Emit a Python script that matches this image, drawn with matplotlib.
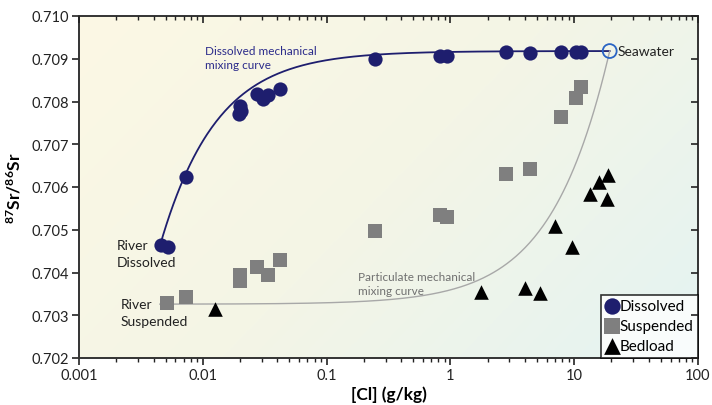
import numpy as np
import matplotlib
matplotlib.use("Agg")
import matplotlib.pyplot as plt
from matplotlib.colors import LinearSegmentedColormap
from matplotlib.ticker import FixedLocator, LogLocator, NullFormatter, FuncFormatter

plt.rcParams['font.family'] = ['Lato', 'DejaVu Sans']
plt.rcParams['mathtext.fontset'] = 'custom'
plt.rcParams['mathtext.rm'] = 'Lato'
plt.rcParams['mathtext.bf'] = 'Lato:bold'

# ---- data ----
dis_cl = [0.00458, 0.00522, 0.0073, 0.0199, 0.0202, 0.0195, 0.0272, 0.0305, 0.0335, 0.0418,
          0.244, 0.83, 0.946, 2.83, 4.42, 7.86, 10.4, 11.4]
dis_sr = [0.70464, 0.70460, 0.70623, 0.70789, 0.70777, 0.70770, 0.70818, 0.70806, 0.70815, 0.70829,
          0.70899, 0.70906, 0.70906, 0.70916, 0.70913, 0.70916, 0.70916, 0.70916]

sus_cl = [0.00512, 0.00728, 0.0199, 0.0199, 0.0272, 0.0335, 0.0418,
          0.244, 0.83, 0.946, 2.83, 4.42, 7.86, 10.4, 11.4]
sus_sr = [0.70329, 0.70343, 0.70394, 0.70380, 0.70413, 0.70394, 0.70429,
          0.70497, 0.70535, 0.70530, 0.70630, 0.70642, 0.70764, 0.70808, 0.70834]

bed_cl = [0.0125, 1.78, 4.03, 5.32, 7.03, 9.63, 13.5, 15.9, 18.8, 18.4]
bed_sr = [0.70315, 0.70354, 0.70364, 0.70352, 0.70509, 0.70460, 0.70584, 0.70612, 0.70628, 0.70572]

sea_cl = 19.35
sea_sr = 0.70918

# mixing end-members: river dissolved / river suspended -> seawater
river_dis_cl, river_dis_sr = 0.0045, 0.70462
river_sus_cl, river_sus_sr = 0.0045, 0.70326
k_dis = 4100.0   # Sr concentration ratio seawater / river (dissolved)
k_sus = 1.1      # Sr concentration ratio seawater / river (particulate)

xticks = [0.001, 0.01, 0.1, 1, 10, 100]
xtick_labels = ['0.001', '0.01', '0.1', '1', '10', '100']
yticks = [0.702, 0.703, 0.704, 0.705, 0.706, 0.707, 0.708, 0.709, 0.710]


def mixing(cl0, r0, k, n=400):
    cl = np.logspace(np.log10(cl0), np.log10(sea_cl), n)
    f = (cl - cl0) / (sea_cl - cl0)
    r = (f * k * sea_sr + (1 - f) * r0) / (f * k + (1 - f))
    return cl, r


fig = plt.figure(figsize=(7.12, 4.06), dpi=100)
ax = fig.add_axes([79 / 712, 1 - 359 / 406, (698 - 79) / 712, (359 - 17) / 406])

# gradient background
cmap = LinearSegmentedColormap.from_list('bg', ['#fcf8e4', '#f4f5e6', '#e4f3f2'])
gx, gy = np.meshgrid(np.linspace(0, 1, 200), np.linspace(1, 0, 200))
grad = (gx * 0.65 + (1 - gy) * 0.35)
ax.imshow(grad, cmap=cmap, extent=[0, 1, 0, 1], transform=ax.transAxes,
          aspect='auto', zorder=0, interpolation='bicubic')

navy = '#1e1e6e'
gray = '#7f7f7f'

c1, r1 = mixing(river_dis_cl, river_dis_sr, k_dis)
ax.plot(c1, r1, color=navy, lw=1.3, zorder=2)
c2, r2 = mixing(river_sus_cl, river_sus_sr, k_sus)
ax.plot(c2, r2, color='#a8a8a8', lw=1.0, zorder=2)

ax.scatter(dis_cl, dis_sr, s=105, marker='o', color=navy, zorder=4, label='Dissolved', linewidths=0)
ax.scatter(sus_cl, sus_sr, s=105, marker='s', color=gray, zorder=3, label='Suspended', linewidths=0)
ax.scatter(bed_cl, bed_sr, s=110, marker='^', color='black', zorder=3, label='Bedload', linewidths=0)
ax.scatter([sea_cl], [sea_sr], s=100, marker='o', facecolors='none', edgecolors='#2a64c4',
           linewidths=1.3, zorder=5)

ax.set_xscale('log')
ax.set_xlim(0.001, 100)
ax.set_ylim(0.702, 0.710)
ax.xaxis.set_major_locator(FixedLocator(xticks))
ax.xaxis.set_major_formatter(FuncFormatter(lambda v, p: xtick_labels[xticks.index(v)] if v in xticks else ''))
ax.xaxis.set_minor_locator(LogLocator(base=10, subs=np.arange(2, 10)))
ax.xaxis.set_minor_formatter(NullFormatter())
ax.yaxis.set_major_locator(FixedLocator(yticks))
ax.yaxis.set_major_formatter(FuncFormatter(lambda v, p: f'{v:.3f}'))

ax.tick_params(axis='both', which='major', direction='out', length=5, width=1.2,
               labelsize=10.5, colors='#222222', pad=2)
ax.tick_params(axis='x', which='minor', direction='out', length=3, width=1.0, colors='#222222')

for s in ax.spines.values():
    s.set_linewidth(1.4)
    s.set_color('#333333')

# inward ticks on top and right
axt = ax.twiny()
axt.set_xscale('log')
axt.set_xlim(0.001, 100)
axt.xaxis.set_major_locator(FixedLocator(xticks))
axt.xaxis.set_minor_locator(LogLocator(base=10, subs=np.arange(2, 10)))
axt.tick_params(axis='x', which='both', direction='in', labeltop=False, colors='#222222')
axt.tick_params(axis='x', which='major', length=5, width=1.2)
axt.tick_params(axis='x', which='minor', length=3, width=1.0)
axr = ax.twinx()
axr.set_ylim(0.702, 0.710)
axr.yaxis.set_major_locator(FixedLocator(yticks))
axr.tick_params(axis='y', direction='in', length=5, width=1.2, labelright=False, colors='#222222')
for a in (axt, axr):
    for s in a.spines.values():
        s.set_visible(False)

ax.set_xlabel('[Cl] (g/kg)', fontsize=12.5, fontweight='bold', labelpad=3)
ax.set_ylabel(r'$\mathbf{^{87}Sr/^{86}Sr}$', fontsize=12.5, labelpad=6)

ax.text(0.0104, 0.70932, 'Dissolved mechanical\nmixing curve', color='#2a2a8a', fontsize=8.5,
        ha='left', va='top', linespacing=1.35, zorder=6)
ax.text(0.178, 0.70375, 'Particulate mechanical\nmixing curve', color='#707070', fontsize=8.5,
        ha='left', va='center', linespacing=1.35, zorder=6)
ax.text(22.6, 0.70918, 'Seawater', color='#222222', fontsize=10, ha='left', va='center', zorder=6)
ax.text(0.00202, 0.70444, 'River\nDissolved', color='#222222', fontsize=10, ha='left', va='center',
        linespacing=1.45, zorder=6)
ax.text(0.00218, 0.70306, 'River\nSuspended', color='#222222', fontsize=10, ha='left', va='center',
        linespacing=1.45, zorder=6)

leg = ax.legend(loc='lower right', frameon=True, fancybox=False, borderaxespad=0,
                fontsize=11, handlelength=0.8, handletextpad=0.1, labelspacing=0.4,
                borderpad=0.3, markerscale=1.15)
leg.get_frame().set_edgecolor('black')
leg.get_frame().set_linewidth(1.2)
leg.get_frame().set_facecolor('white')
leg.set_zorder(10)

fig.savefig('out.png', dpi=100)
